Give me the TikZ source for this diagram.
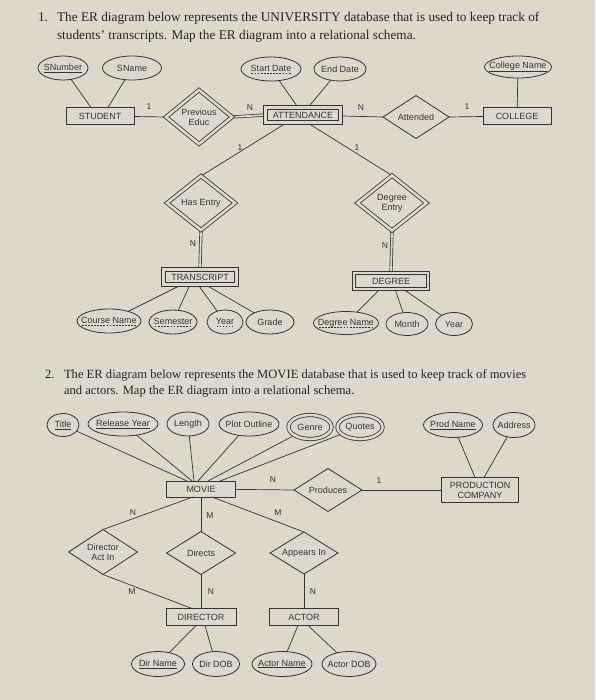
\documentclass[tikz,border=0pt]{standalone}
\usepackage{fontspec}
\setmainfont{Liberation Serif}
\newfontfamily\arialf{Liberation Sans}
\usetikzlibrary{shapes.geometric,calc,backgrounds}
\definecolor{bgc}{RGB}{221,215,204}
\definecolor{inkc}{RGB}{55,52,50}
\newcommand\zb[1]{\makebox[0pt]{#1}}
\newcommand\dul[1]{\setbox0\hbox{#1}\rlap{\copy0}\hbox to \wd0{\xleaders\hbox to 3pt{\hss\rule[-2pt]{1.8pt}{0.5pt}\hss}\hfill}}
\begin{document}
\begin{tikzpicture}[x=1pt,y=-1pt,
  every node/.style={inner sep=0pt, outer sep=0pt, text=inkc},
  sfont/.style={font=\arialf\fontsize{9}{10}\selectfont},
  ent/.style={sfont, draw=inkc, line width=0.8pt, rectangle, align=center},
  attr/.style={sfont, draw=inkc, line width=0.8pt, ellipse},
  rel/.style={sfont, draw=inkc, line width=0.8pt, diamond, aspect=1.5, align=center},
  dbl/.style={double=bgc, double distance=2.6pt},
  dblline/.style={double=bgc, double distance=1.8pt},
  conn/.style={draw=inkc, line width=0.7pt},
  card/.style={font=\arialf\fontsize{8.5}{9}\selectfont},
  ttlA/.style={font=\fontsize{13.3}{15}\selectfont, anchor=base west, text=black!85},
  ttlB/.style={font=\fontsize{12.6}{15}\selectfont, anchor=base west, text=black!85}
]
\useasboundingbox (0,0) rectangle (595,700);
\begin{pgfonlayer}{background}
\fill[bgc] (0,0) rectangle (595,700);
\end{pgfonlayer}

% ---------- titles
\node[ttlA] (t1n) at (38,22) {1.};
\node[ttlA] (t1a) at (57,22) {The ER diagram below represents the UNIVERSITY database that is used to keep track of};
\node[ttlA] (t1b) at (57,39.5) {students' transcripts. Map the ER diagram into a relational schema.};
\node[ttlB] (t2n) at (45,378) {2.};
\node[ttlB] (t2a) at (64,378) {The ER diagram below represents the MOVIE database that is used to keep track of movies};
\node[ttlB] (t2b) at (64,394.5) {and actors. Map the ER diagram into a relational schema.};

% ---------- part 1 nodes
\node[attr, minimum width=50pt, minimum height=24pt] (snum) at (63,68) {\zb{\underline{SNumber}}};
\node[attr, minimum width=59pt, minimum height=24pt] (sname) at (132,68) {\zb{SName}};
\node[attr, minimum width=60pt, minimum height=24pt] (sdate) at (271,69) {\zb{\dul{Start Date}}};
\node[attr, minimum width=52pt, minimum height=24pt] (edate) at (340,69) {\zb{End Date}};
\node[attr, minimum width=67pt, minimum height=22pt] (cname) at (518,67) {\zb{\underline{College Name}}};

\node[ent, minimum width=68pt, minimum height=17pt] (student) at (100,116) {STUDENT};
\node[rel, dbl, minimum width=66pt, minimum height=54pt] (prev) at (199,117) {Previous\\Educ};
\node[ent, dbl, minimum width=75pt, minimum height=15pt] (attend) at (303,115) {ATTENDANCE};
\node[rel, minimum width=66pt, minimum height=43pt] (attended) at (416,117) {Attended};
\node[ent, minimum width=68pt, minimum height=17pt] (college) at (517,116) {COLLEGE};

\node[rel, dbl, minimum width=68pt, minimum height=54pt] (hasentry) at (201,203) {Has Entry};
\node[rel, dbl, minimum width=69pt, minimum height=55pt] (degentry) at (392,203) {Degree\\Entry};
\node[ent, dbl, minimum width=73pt, minimum height=15pt] (transcript) at (200,277) {TRANSCRIPT};
\node[ent, dbl, minimum width=74pt, minimum height=16pt] (degree) at (391,281) {DEGREE};

\node[attr, minimum width=64pt, minimum height=24pt] (course) at (109,321) {\zb{\dul{Course Name}}};
\node[attr, minimum width=48pt, minimum height=24pt] (semester) at (173,322) {\zb{\dul{Semester}}};
\node[attr, minimum width=36pt, minimum height=24pt] (yearA) at (225,322) {\zb{\dul{Year}}};
\node[attr, minimum width=48pt, minimum height=24pt] (grade) at (270,322) {\zb{Grade}};
\node[attr, minimum width=65pt, minimum height=23pt] (degname) at (346,323) {\zb{\dul{Degree Name}}};
\node[attr, minimum width=42pt, minimum height=23pt] (month) at (407,324) {\zb{Month}};
\node[attr, minimum width=37pt, minimum height=23pt] (yearB) at (454,324) {\zb{Year}};

\node[card] (k1) at (149,107) {1};
\node[card] (k2) at (250,108) {N};
\node[card] (k3) at (361,108) {N};
\node[card] (k4) at (467,107) {1};
\node[card] (k5) at (240,148) {1};
\node[card] (k6) at (357,148) {1};
\node[card] (k7) at (193,244) {N};
\node[card] (k8) at (385,246) {N};

% ---------- part 2 nodes
\node[attr, minimum width=32pt, minimum height=23pt] (title) at (63,425) {\zb{\underline{Title}}};
\node[attr, minimum width=70pt, minimum height=24pt] (ryear) at (123,424) {\zb{\underline{Release Year}}};
\node[attr, minimum width=42pt, minimum height=24pt] (length) at (188,424) {\zb{Length}};
\node[attr, minimum width=60pt, minimum height=24pt] (plot) at (249,424) {\zb{Plot Outline}};
\node[attr, dbl, minimum width=43pt, minimum height=24pt] (genre) at (310,427) {\zb{Genre}};
\node[attr, dbl, minimum width=45pt, minimum height=24pt] (quotes) at (360,427) {\zb{Quotes}};
\node[attr, minimum width=59pt, minimum height=25pt] (prodname) at (453,425) {\zb{\underline{Prod Name}}};
\node[attr, minimum width=42pt, minimum height=25pt] (address) at (514,425) {\zb{Address}};

\node[ent, minimum width=69pt, minimum height=16pt] (movie) at (201,489) {MOVIE};
\node[rel, minimum width=68pt, minimum height=43pt] (produces) at (328,490) {Produces};
\node[ent, minimum width=77pt, minimum height=25pt] (pc) at (480,490) {PRODUCTION\\COMPANY};
\node[rel, minimum width=69pt, minimum height=45pt] (dai) at (103,552) {Director\\Act In};
\node[rel, minimum width=69pt, minimum height=43pt] (directs) at (201,553) {Directs};
\node[rel, minimum width=68pt, minimum height=42pt] (appears) at (304,553) {Appears In};
\node[ent, minimum width=70pt, minimum height=17pt] (director) at (201,617) {DIRECTOR};
\node[ent, minimum width=69pt, minimum height=17pt] (actor) at (304,617) {ACTOR};

\node[attr, minimum width=53pt, minimum height=25pt] (dirname) at (158,664) {\zb{\underline{Dir Name}}};
\node[attr, minimum width=47pt, minimum height=25pt] (dirdob) at (216,664) {\zb{Dir DOB}};
\node[attr, minimum width=60pt, minimum height=25pt] (actname) at (282,664) {\zb{\underline{Actor Name}}};
\node[attr, minimum width=54pt, minimum height=25pt] (actdob) at (349,664) {\zb{Actor DOB}};

\node[card] (m1) at (273,480) {N};
\node[card] (m2) at (379,481) {1};
\node[card] (m3) at (133,513) {N};
\node[card] (m4) at (210,516) {M};
\node[card] (m5) at (278,513) {M};
\node[card] (m6) at (132,592) {M};
\node[card] (m7) at (211,592) {N};
\node[card] (m8) at (313,592) {N};

% ---------- connectors (below the nodes)
\begin{pgfonlayer}{background}
\draw[conn] (snum) -- ([xshift=-9pt]student.north);
\draw[conn] (sname) -- ([xshift=8pt]student.north);
\draw[conn] (sdate) -- ([xshift=-5pt]attend.north);
\draw[conn] (edate) -- ([xshift=5pt]attend.north);
\draw[conn] (cname) -- (college);
\draw[conn] (student) -- (prev.west);
\draw[conn, dblline] (prev.east) -- (attend.west);
\draw[conn] (attend) -- (attended.west);
\draw[conn] (attended.east) -- (college);
\draw[conn] ([xshift=-16pt]attend.south) -- (hasentry.north);
\draw[conn] ([xshift=4pt]attend.south) -- (degentry.north);
\draw[conn, dblline] (hasentry.south) -- (transcript.north);
\draw[conn, dblline] (degentry.south) -- (degree.north);
\draw[conn] ([xshift=-18pt]transcript.south) -- (course);
\draw[conn] ([xshift=-10pt]transcript.south) -- (semester);
\draw[conn] ([xshift=-2pt]transcript.south) -- (yearA);
\draw[conn] ([xshift=5pt]transcript.south) -- (grade);
\draw[conn] ([xshift=-11pt]degree.south) -- (degname);
\draw[conn] ([xshift=4pt]degree.south) -- (month);
\draw[conn] ([xshift=12pt]degree.south) -- (yearB);

\draw[conn] (title) -- ([xshift=-14pt]movie.north);
\draw[conn] (ryear) -- ([xshift=-9pt]movie.north);
\draw[conn] (length) -- ([xshift=-7pt]movie.north);
\draw[conn] (plot) -- ([xshift=-3pt]movie.north);
\draw[conn] (genre) -- ([xshift=7pt]movie.north);
\draw[conn] (quotes) -- ([xshift=19pt]movie.north);
\draw[conn] (movie) -- (produces.west);
\draw[conn] (produces.east) -- (pc);
\draw[conn] (prodname) -- ([xshift=-5pt]pc.north);
\draw[conn] (address) -- ([xshift=4pt]pc.north);
\draw[conn] ([xshift=-8pt]movie.south) -- (dai.north);
\draw[conn] (movie.south) -- (directs.north);
\draw[conn] ([xshift=11pt]movie.south) -- (appears.north);
\draw[conn] (dai.south) -- ([xshift=-9pt]director.north);
\draw[conn] (directs.south) -- (director.north);
\draw[conn] (appears.south) -- (actor.north);
\draw[conn] ([xshift=-5pt]director.south) -- (dirname);
\draw[conn] ([xshift=4pt]director.south) -- (dirdob);
\draw[conn] ([xshift=-6pt]actor.south) -- (actname);
\draw[conn] ([xshift=4pt]actor.south) -- (actdob);
\end{pgfonlayer}
\end{tikzpicture}
\end{document}
